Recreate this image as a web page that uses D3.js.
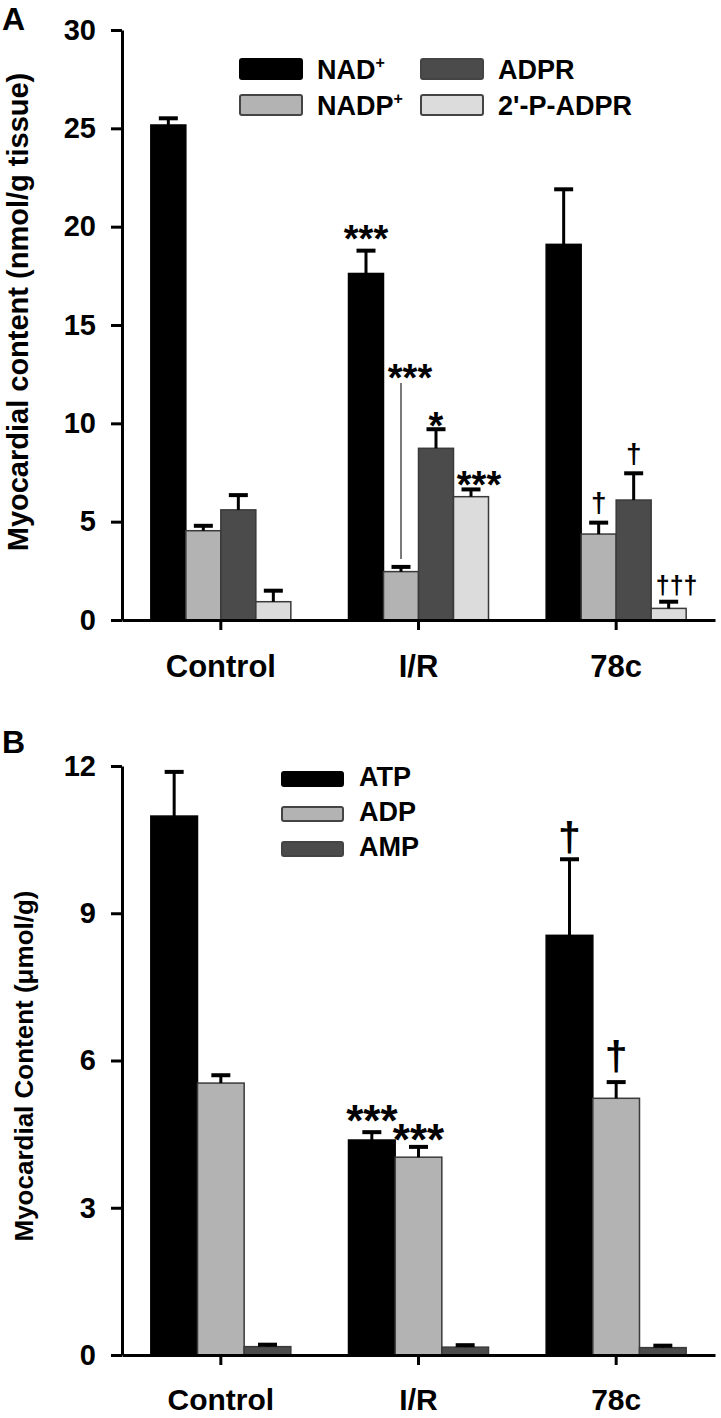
<!DOCTYPE html>
<html><head><meta charset="utf-8">
<script src="https://cdn.jsdelivr.net/npm/d3@7"></script>
<style>
body{margin:0;background:#fff}
svg text{font-family:"Liberation Sans",Arial,sans-serif;font-weight:bold;fill:#000}
</style>
</head><body>
<svg id="c" width="721" height="1418"></svg>
<script>
// ---------- data ----------
const categories = ["Control", "I/R", "78c"];

// Panel A (nmol/g tissue)
const seriesA = ["NAD+", "NADP+", "ADPR", "2'-P-ADPR"];
const nadMean   = [25.17, 17.62, 19.1];
const nadSem    = [0.34, 1.16, 2.8];
const nadpMean  = [4.54, 2.46, 4.37];
const nadpSem   = [0.25, 0.24, 0.58];
const adprMean  = [5.6, 8.73, 6.1];
const adprSem   = [0.75, 0.97, 1.36];
const padprMean = [0.93, 6.27, 0.59];
const padprSem  = [0.56, 0.37, 0.34];
const ticksA = [0, 5, 10, 15, 20, 25, 30];

// Panel B (µmol/g)
const seriesB = ["ATP", "ADP", "AMP"];
const atpMean = [10.98, 4.38, 8.55];
const atpSem  = [0.9, 0.16, 1.55];
const adpMean = [5.54, 4.03, 5.23];
const adpSem  = [0.16, 0.21, 0.33];
const ampMean = [0.17, 0.16, 0.15];
const ampSem  = [0.04, 0.04, 0.04];
const ticksB = [0, 3, 6, 9, 12];

// significance marks: [category, series index, label]
const marksA = [
  ["I/R", 0, "***"], ["I/R", 1, "***"], ["I/R", 2, "*"], ["I/R", 3, "***"],
  ["78c", 1, "\u2020"], ["78c", 2, "\u2020"], ["78c", 3, "\u2020\u2020\u2020"]
];
const marksB = [
  ["I/R", 0, "***"], ["I/R", 1, "***"],
  ["78c", 0, "\u2020"], ["78c", 1, "\u2020"]
];

// ---------- styling ----------
const colorsA = ["#000000", "#b3b3b3", "#4b4b4b", "#dcdcdc"];
const colorsB = ["#000000", "#b3b3b3", "#4b4b4b"];

const svg = d3.select("#c");
const X0 = 122, X1 = 715, GROUPW = 140;

function panel(o) {
  const g = svg.append("g");
  const x = d3.scaleBand().domain(categories).range([X0, X1]);
  const bw = x.bandwidth();
  const xs = d3.scaleBand().domain(d3.range(o.series.length))
    .range([bw / 2 - GROUPW / 2, bw / 2 + GROUPW / 2]);
  const y = d3.scaleLinear().domain(o.domain).range(o.range);

  const rows = [];
  o.series.forEach((s, si) => categories.forEach((c, ci) => {
    rows.push({c, si, m: o.means[si][ci], e: o.sems[si][ci]});
  }));

  // bars
  g.selectAll("rect.bar").data(rows).join("rect")
    .attr("x", d => x(d.c) + xs(d.si))
    .attr("width", xs.bandwidth())
    .attr("y", d => y(d.m))
    .attr("height", d => y(0) - y(d.m))
    .attr("fill", d => o.colors[d.si])
    .attr("stroke", d => d.si === 0 ? "#000" : "#3a3a3a")
    .attr("stroke-width", 1.5);

  // error bars
  const cx = d => x(d.c) + xs(d.si) + xs.bandwidth() / 2;
  g.selectAll("line.err").data(rows).join("line")
    .attr("x1", cx).attr("x2", cx)
    .attr("y1", d => y(d.m)).attr("y2", d => y(d.m + d.e))
    .attr("stroke", "#000").attr("stroke-width", 3);
  g.selectAll("line.cap").data(rows).join("line")
    .attr("x1", d => cx(d) - 9.5).attr("x2", d => cx(d) + 9.5)
    .attr("y1", d => y(d.m + d.e)).attr("y2", d => y(d.m + d.e))
    .attr("stroke", "#000").attr("stroke-width", 4);

  // axes
  const ya = g.append("g").attr("transform", `translate(${X0},0)`)
    .call(d3.axisLeft(y).tickValues(o.ticks).tickSize(11).tickSizeOuter(0).tickPadding(15));
  const xa = g.append("g").attr("transform", `translate(0,${y(0)})`)
    .call(d3.axisBottom(x).tickSize(10).tickSizeOuter(0).tickPadding(o.xPad));
  [ya, xa].forEach(a => {
    a.select(".domain").attr("stroke", "#000").attr("stroke-width", 3);
    a.selectAll(".tick line").attr("stroke", "#000").attr("stroke-width", 3);
    a.selectAll("text").attr("font-family", null).attr("fill", "#000");
  });
  ya.selectAll("text").style("font-size", "29px");
  xa.selectAll("text").style("font-size", o.xSize + "px");

  // y title
  g.append("text")
    .attr("transform", `translate(${o.titleX},${o.titleY}) rotate(-90)`)
    .attr("text-anchor", "middle")
    .style("font-size", o.titleSize + "px")
    .text(o.title);

  // panel letter
  g.append("text").attr("x", 2).attr("y", o.letterY)
    .style("font-size", "32px").text(o.letter);

  return {g, x, xs, y, cx, rows};
}

// ---------- Panel A ----------
const A = panel({
  series: seriesA, colors: colorsA,
  means: [nadMean, nadpMean, adprMean, padprMean],
  sems: [nadSem, nadpSem, adprSem, padprSem],
  domain: [0, 30], range: [620, 30], ticks: ticksA, xPad: 25, xSize: 31,
  title: "Myocardial content (nmol/g tissue)", titleX: 28, titleY: 312, titleSize: 29,
  letter: "A", letterY: 30
});

// ---------- Panel B ----------
const B = panel({
  series: seriesB, colors: colorsB,
  means: [atpMean, adpMean, ampMean],
  sems: [atpSem, adpSem, ampSem],
  domain: [0, 12], range: [1355, 766], ticks: ticksB, xPad: 24, xSize: 30,
  title: "Myocardial Content (\u03bcmol/g)", titleX: 33, titleY: 1066, titleSize: 26,
  letter: "B", letterY: 753
});

// ---------- significance marks ----------
function drawMarks(P, marks, style) {
  marks.forEach(([c, si, label]) => {
    const d = P.rows.find(r => r.c === c && r.si === si);
    const capY = P.y(d.m + d.e);
    const isStar = label[0] === "*";
    const st = style(c, si, label);
    const fs = st.fs;
    const base = isStar ? capY - st.gap + 0.42 * fs : capY - st.gap - 0.02 * fs;
    P.g.append("text")
      .attr("x", P.cx(d) + (st.dx || 0)).attr("y", base)
      .attr("text-anchor", "middle")
      .style("font-size", fs + "px")
      .text(label);
    if (st.line) {
      P.g.append("line")
        .attr("x1", P.cx(d)).attr("x2", P.cx(d))
        .attr("y1", capY - 8).attr("y2", capY - 8 - st.line)
        .attr("stroke", "#7a7a7a").attr("stroke-width", 2);
    }
  });
}
drawMarks(A, marksA, (c, si, label) => {
  if (label === "***" && si === 0) return {fs: 38, gap: 15};
  if (label === "***" && si === 1) return {fs: 38, gap: 192, dx: 9, line: 176};
  if (label === "*") return {fs: 38, gap: 6};
  if (label === "***") return {fs: 38, gap: 7, dx: 8};
  if (label.length === 3) return {fs: 25, gap: 7, dx: 8};
  return {fs: 28, gap: 10};
});

drawMarks(B, marksB, (c, si, label) => {
  if (label === "***" && si === 0) return {fs: 44, gap: 15};
  if (label === "***") return {fs: 44, gap: 10};
  if (si === 0) return {fs: 41, gap: 7};
  return {fs: 41, gap: 11};
});

// ---------- legends ----------
function legend(items, colors, xs, ys, tx, size) {
  items.forEach((s, i) => {
    const lx = xs[i], ly = ys[i];
    svg.append("rect").attr("x", lx).attr("y", ly)
      .attr("width", size[0]).attr("height", size[1]).attr("rx", 2)
      .attr("fill", colors[i])
      .attr("stroke", i === 0 ? "#000" : "#444").attr("stroke-width", 2);
    const t = svg.append("text").attr("x", lx + tx).attr("y", ly + size[1])
      .style("font-size", "27px");
    if (s.endsWith("+")) {
      t.append("tspan").text(s.slice(0, -1));
      t.append("tspan").attr("dy", -11).style("font-size", "16px").text("+");
    } else t.text(s);
  });
}
legend(seriesA, colorsA, [240, 240, 421, 421], [59, 95, 59, 95], 77, [62, 20]);
legend(seriesB, colorsB, [282, 282, 282], [772, 807, 842], 77, [61, 14]);
</script>
</body></html>
